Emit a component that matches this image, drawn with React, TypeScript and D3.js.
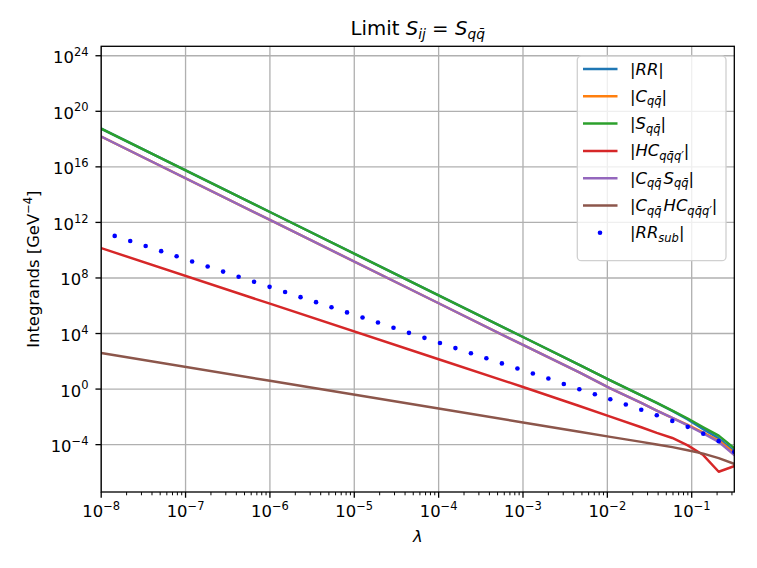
import * as d3 from 'd3';

// log10 of lambda where the curves were sampled
const LAMBDA_LOG = [-8, -6, -4, -3, -2.332, -1.965, -1.598, -1.414, -1.23, -1.047, -0.863, -0.68, -0.496];

// log10 of |integrand|
const RR_LOG = [18.75, 12.75, 6.75, 3.75, 1.74, 0.63, -0.45, -1.0, -1.57, -2.18, -2.88, -3.55, -4.45];
const C_LOG = [18.18, 12.18, 6.18, 3.18, 1.2, 0.05, -1.0, -1.55, -2.08, -2.57, -3.13, -3.7, -4.6];
const S_LOG = [18.75, 12.75, 6.75, 3.75, 1.74, 0.63, -0.45, -1.0, -1.55, -2.12, -2.75, -3.35, -4.25];
const HC_LOG = [10.15, 6.15, 2.15, 0.15, -1.22, -1.98, -2.75, -3.15, -3.52, -4.05, -4.75, -5.95, -5.55];
const CS_LOG = [18.18, 12.18, 6.18, 3.18, 1.2, 0.05, -1.0, -1.55, -2.08, -2.62, -3.2, -3.8, -4.75];
const CHC_LOG = [2.6, 0.6, -1.4, -2.4, -3.07, -3.44, -3.8, -3.99, -4.18, -4.4, -4.65, -4.97, -5.38];

// the subtracted integrand, drawn as dots
const LAMBDA_SUB_LOG = [
  -7.84, -7.656, -7.473, -7.289, -7.106, -6.922, -6.738, -6.555, -6.371, -6.188,
  -6.004, -5.82, -5.637, -5.453, -5.27, -5.086, -4.902, -4.719, -4.535, -4.352,
  -4.168, -3.984, -3.801, -3.617, -3.434, -3.25, -3.066, -2.883, -2.699, -2.516,
  -2.332, -2.148, -1.965, -1.781, -1.598, -1.414, -1.23, -1.047, -0.863, -0.68, -0.496,
];
const RR_SUB_LOG = [
  11.03, 10.66, 10.3, 9.93, 9.56, 9.19, 8.83, 8.46, 8.09, 7.73,
  7.36, 6.99, 6.62, 6.26, 5.89, 5.52, 5.15, 4.79, 4.42, 4.05,
  3.69, 3.32, 2.95, 2.58, 2.22, 1.85, 1.48, 1.12, 0.76, 0.37,
  -0.01, -0.37, -0.73, -1.11, -1.49, -1.88, -2.29, -2.72, -3.21, -3.75, -4.52,
];

const X_TICKS = [-8, -7, -6, -5, -4, -3, -2, -1];
const Y_TICKS = [-4, 0, 4, 8, 12, 16, 20, 24];

type Kind = 'r' | 'i' | 'sub' | 'sup';
type Seg = [string, Kind];

const QQ = 'qq\u0304';
const QQQ = 'qq\u0304q\u2032';

const SERIES: { label: Seg[]; color: string; vals: number[] }[] = [
  { label: [['|', 'r'], ['RR', 'i'], ['|', 'r']], color: '#1f77b4', vals: RR_LOG },
  { label: [['|', 'r'], ['C', 'i'], [QQ, 'sub'], ['|', 'r']], color: '#ff7f0e', vals: C_LOG },
  { label: [['|', 'r'], ['S', 'i'], [QQ, 'sub'], ['|', 'r']], color: '#2ca02c', vals: S_LOG },
  { label: [['|', 'r'], ['HC', 'i'], [QQQ, 'sub'], ['|', 'r']], color: '#d62728', vals: HC_LOG },
  {
    label: [['|', 'r'], ['C', 'i'], [QQ, 'sub'], ['S', 'i'], [QQ, 'sub'], ['|', 'r']],
    color: '#9467bd',
    vals: CS_LOG,
  },
  {
    label: [['|', 'r'], ['C', 'i'], [QQ, 'sub'], ['HC', 'i'], [QQQ, 'sub'], ['|', 'r']],
    color: '#8c564b',
    vals: CHC_LOG,
  },
];
const SUB_LABEL: Seg[] = [['|', 'r'], ['RR', 'i'], ['sub', 'sub'], ['|', 'r']];
const TITLE: Seg[] = [['Limit ', 'r'], ['S', 'i'], ['ij', 'sub'], [' = ', 'r'], ['S', 'i'], [QQ, 'sub']];

const W = 757;
const H = 568;
const FONT = '"DejaVu Sans", sans-serif';
const PT = 118.28 / 72;

const MathText = ({ segs, size }: { segs: Seg[]; size: number }) => {
  let cur = 0;
  let prev: Kind | null = null;
  return (
    <>
      {segs.map(([t, k], i) => {
        const small = k === 'sub' || k === 'sup';
        const target = k === 'sub' ? 0.22 * size : k === 'sup' ? -0.45 * size : 0;
        const dy = target - cur;
        cur = target;
        // mathtext leaves a little room after a subscript before the next symbol
        const dx = prev === 'sub' && k === 'i' ? size * 0.12 : 0;
        prev = k;
        return (
          <tspan
            key={i}
            dy={dy}
            dx={dx || undefined}
            fontStyle={k === 'i' || k === 'sub' ? 'italic' : 'normal'}
            fontSize={small ? size * 0.7 : size}
          >
            {t}
          </tspan>
        );
      })}
    </>
  );
};

const pow = (k: number): Seg[] => [['10', 'r'], [k < 0 ? '\u2212' + Math.abs(k) : String(k), 'sup']];

const App = () => {
  const left = 101.2;
  const right = 734.3;
  const top = 46.3;
  const bottom = 492;

  const x = d3.scaleLog().domain([1e-8, 10 ** -0.495]).range([left, right]);
  const y = d3.scaleLog().domain([10 ** -7.41, 10 ** 24.68]).range([bottom, top]);

  const line = d3
    .line<[number, number]>()
    .x((d) => x(10 ** d[0]))
    .y((d) => y(10 ** d[1]));

  const fs = 10 * PT;
  const xMax = 10 ** -0.495;
  const minor: number[] = [];
  X_TICKS.forEach((k) => {
    for (let m = 2; m <= 9; m++) {
      const v = m * 10 ** k;
      if (v <= xMax) minor.push(v);
    }
  });

  const legX = 577.3;
  const legY = 56;
  const rowY = (i: number) => 69 + i * 27.3;

  return (
    <svg
      width={W}
      height={H}
      style={{ position: 'fixed', left: 0, top: 0, background: '#fff' }}
      fontFamily={FONT}
    >
      <rect width={W} height={H} fill="#fff" />
      <defs>
        <clipPath id="plot">
          <rect x={left} y={top} width={right - left} height={bottom - top} />
        </clipPath>
      </defs>

      {/* grid */}
      <g stroke="#b0b0b0" strokeWidth={0.8 * PT}>
        {X_TICKS.map((k) => (
          <line key={k} x1={x(10 ** k)} x2={x(10 ** k)} y1={top} y2={bottom} />
        ))}
        {Y_TICKS.map((k) => (
          <line key={k} x1={left} x2={right} y1={y(10 ** k)} y2={y(10 ** k)} />
        ))}
      </g>

      <g clipPath="url(#plot)">
        {SERIES.map((s, i) => (
          <path
            key={i}
            d={line(LAMBDA_LOG.map((l, j) => [l, s.vals[j]] as [number, number])) || ''}
            fill="none"
            stroke={s.color}
            strokeWidth={1.5 * PT}
            strokeLinejoin="round"
            strokeLinecap="square"
          />
        ))}
        {LAMBDA_SUB_LOG.map((l, i) => (
          <circle key={i} cx={x(10 ** l)} cy={y(10 ** RR_SUB_LOG[i])} r={2.3} fill="#0000ff" />
        ))}
      </g>

      {/* spines */}
      <rect
        x={left}
        y={top}
        width={right - left}
        height={bottom - top}
        fill="none"
        stroke="#000"
        strokeWidth={0.8 * PT}
      />

      {/* ticks */}
      <g stroke="#000">
        {X_TICKS.map((k) => (
          <line key={k} x1={x(10 ** k)} x2={x(10 ** k)} y1={bottom} y2={bottom + 3.5 * PT} strokeWidth={0.8 * PT} />
        ))}
        {minor.map((v, i) => (
          <line key={i} x1={x(v)} x2={x(v)} y1={bottom} y2={bottom + 2 * PT} strokeWidth={0.6 * PT} />
        ))}
        {Y_TICKS.map((k) => (
          <line key={k} x1={left} x2={left - 3.5 * PT} y1={y(10 ** k)} y2={y(10 ** k)} strokeWidth={0.8 * PT} />
        ))}
      </g>
      <g fontSize={fs} fill="#000">
        {X_TICKS.map((k) => (
          <text key={k} x={x(10 ** k)} y={517} textAnchor="middle">
            <MathText segs={pow(k)} size={fs} />
          </text>
        ))}
        {Y_TICKS.map((k) => (
          <text key={k} x={88.5} y={y(10 ** k) + 7.5} textAnchor="end">
            <MathText segs={pow(k)} size={fs} />
          </text>
        ))}
      </g>

      {/* axis labels and title */}
      <text x={(left + right) / 2} y={541.5} textAnchor="middle" fontSize={fs} fontStyle="italic">
        λ
      </text>
      <text transform={`translate(39,${(top + bottom) / 2}) rotate(-90)`} textAnchor="middle" fontSize={fs}>
        <MathText segs={[['Integrands [GeV', 'r'], ['\u22124', 'sup'], [']', 'r']]} size={fs} />
      </text>
      <text x={(left + right) / 2} y={35} textAnchor="middle" fontSize={12 * PT} style={{ whiteSpace: 'pre' }}>
        <MathText segs={TITLE} size={12 * PT} />
      </text>

      {/* legend */}
      <g>
        <rect
          x={legX}
          y={legY}
          width={726 - legX}
          height={260.7 - legY}
          rx={4}
          fill="#fff"
          fillOpacity={0.8}
          stroke="#d0d0d0"
          strokeWidth={1.3}
        />
        {SERIES.map((s, i) => (
          <g key={i}>
            <line x1={583} x2={617.5} y1={rowY(i)} y2={rowY(i)} stroke={s.color} strokeWidth={1.5 * PT} />
            <text x={630} y={rowY(i) + 5.5} fontSize={fs}>
              <MathText segs={s.label} size={fs} />
            </text>
          </g>
        ))}
        <circle cx={600} cy={rowY(6)} r={2.3} fill="#0000ff" />
        <text x={630} y={rowY(6) + 5.5} fontSize={fs}>
          <MathText segs={SUB_LABEL} size={fs} />
        </text>
      </g>
    </svg>
  );
};

export default App;
